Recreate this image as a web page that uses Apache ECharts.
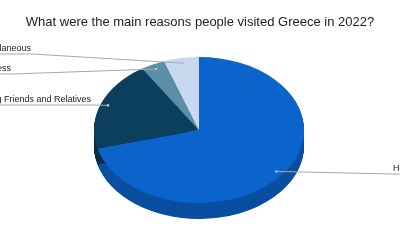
<!DOCTYPE html>
<html><head><meta charset="utf-8">
<script src="https://cdn.jsdelivr.net/npm/echarts@6/dist/echarts.min.js"></script>
<style>html,body{margin:0;padding:0;background:#fff}#c{width:400px;height:250px}</style>
</head><body><div id="c"></div>
<script>
// ---- data ----
const categories = ['Holiday', 'Visiting Friends and Relatives', 'Business', 'Miscellaneous'];
const shares = [70.9, 20.0, 3.7, 5.4];
const chartTitle = 'What were the main reasons people visited Greece in 2022?';

// ---- styles / layout ----
const topColors = ['#0b63cc', '#0b3f5b', '#5a8fa6', '#c6d9ef'];
const sideColors = ['#0a4fa0', '#082f45', '#46718a', '#9fb4cc'];
const CX = 199, CY = 130, RX = 105, RY = 73, DEPTH = 16;
const SY = RY / RX;
const labelLayout = [
  { x: 393, y: 174, align: 'left' },
  { x: 91, y: 105, align: 'right' },
  { x: 11, y: 74, align: 'right' },
  { x: 31, y: 54, align: 'right' }
];
const FONT = '"Liberation Sans", Arial, sans-serif';

const total = shares.reduce((a, b) => a + b, 0);
function angles(i) {
  let before = 0;
  for (let k = 0; k < i; k++) before += shares[k];
  const s = -Math.PI / 2 + before / total * Math.PI * 2;
  const e = s + shares[i] / total * Math.PI * 2;
  return [s, e];
}

function renderWall(params, api) {
  const i = params.dataIndex;
  const [s, e] = angles(i);
  const children = [];
  for (let d = DEPTH; d >= 1; d -= 0.5) {
    children.push({
      type: 'sector',
      shape: { cx: 0, cy: d / SY, r: RX, r0: 0, startAngle: s, endAngle: e, clockwise: true },
      style: { fill: sideColors[i] }
    });
  }
  return { type: 'group', x: CX, y: CY, scaleY: SY, children };
}

function renderTop(params, api) {
  const i = params.dataIndex;
  const [s, e] = angles(i);
  const mid = (s + e) / 2;
  const dx = CX + Math.cos(mid) * RX * 0.93;
  const dy = CY + Math.sin(mid) * RY * 0.93;
  const L = labelLayout[i];
  const pts = L.align === 'right'
    ? [[L.x - 300, L.y], [L.x + 1, L.y], [dx, dy]]
    : [[dx, dy], [L.x - 1, L.y], [L.x + 300, L.y]];
  return {
    type: 'group',
    children: [
      {
        type: 'group', x: CX, y: CY, scaleY: SY,
        children: [{
          type: 'sector',
          shape: { cx: 0, cy: 0, r: RX, r0: 0, startAngle: s, endAngle: e, clockwise: true },
          style: { fill: topColors[i] }
        }]
      },
      {
        type: 'polyline', shape: { points: pts },
        style: { stroke: '#a8a8a8', lineWidth: 1, fill: null }
      },
      {
        type: 'circle', shape: { cx: dx, cy: dy, r: 1.3 },
        style: { fill: '#b8c4d0' }
      },
      {
        type: 'text', x: L.x, y: L.y - 5,
        style: {
          text: categories[i], fill: '#222', font: '9px ' + FONT,
          align: L.align, verticalAlign: 'middle'
        }
      }
    ]
  };
}

const chart = echarts.init(document.getElementById('c'), null, { renderer: 'canvas' });
chart.setOption({
  animation: false,
  backgroundColor: '#fff',
  title: {
    text: chartTitle, left: 'center', top: 11,
    textStyle: { fontSize: 13, fontWeight: 'normal', color: '#222', fontFamily: FONT }
  },
  series: [
    { type: 'custom', coordinateSystem: 'none', silent: true, z: 1, data: shares, renderItem: renderWall },
    { type: 'custom', coordinateSystem: 'none', silent: true, z: 2, data: shares, renderItem: renderTop }
  ]
});
</script>
</body></html>
